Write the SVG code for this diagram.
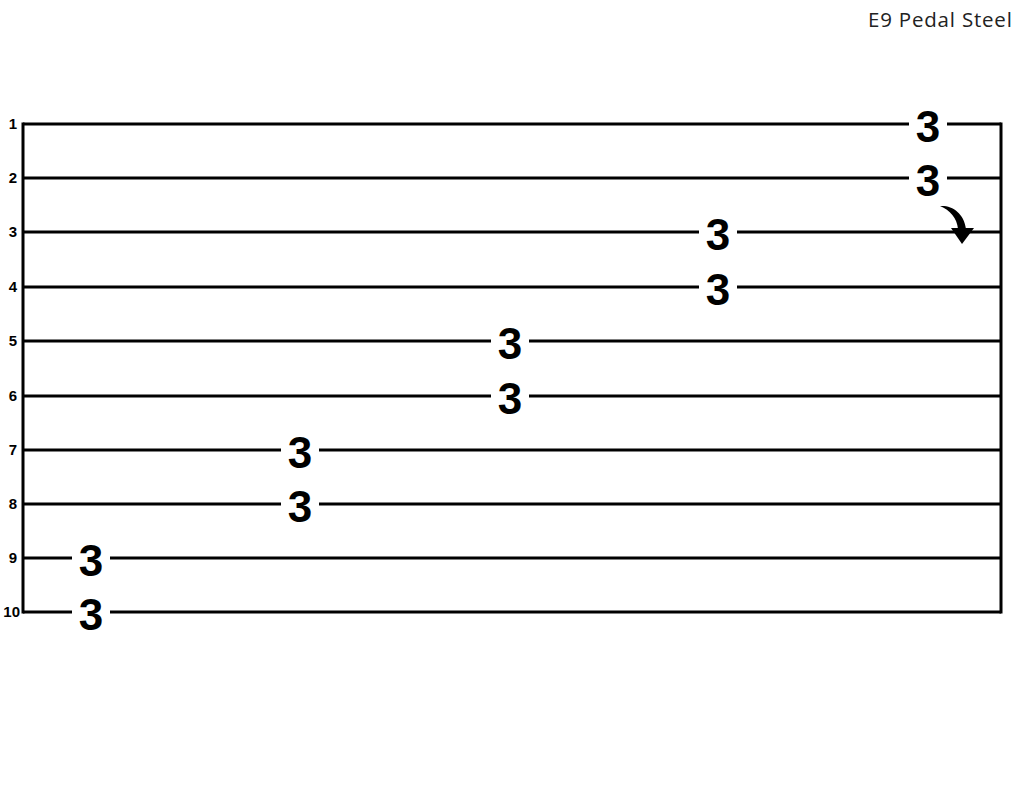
<svg xmlns="http://www.w3.org/2000/svg" width="1024" height="791" viewBox="0 0 1024 791">
<style>
.str{stroke:#000;stroke-width:3;fill:none}
.lbl{font-family:"Liberation Sans",Arial,sans-serif;font-weight:bold;font-size:15px;fill:#000;text-anchor:end}
.fret{font-family:"Liberation Sans",Arial,sans-serif;font-weight:bold;font-size:44px;fill:#000;text-anchor:middle}
.bg{fill:#fff}
.title{font-family:"Open Sans","Liberation Sans",sans-serif;font-size:20.5px;letter-spacing:0.8px;fill:#222}
</style>
<rect width="1024" height="791" fill="#fff"/>
<text class="title" x="868" y="27">E9 Pedal Steel</text>
<g id="staff">
<line class="str" x1="23" y1="124" x2="1001" y2="124"/>
<line class="str" x1="23" y1="178" x2="1001" y2="178"/>
<line class="str" x1="23" y1="232" x2="1001" y2="232"/>
<line class="str" x1="23" y1="287" x2="1001" y2="287"/>
<line class="str" x1="23" y1="341" x2="1001" y2="341"/>
<line class="str" x1="23" y1="396" x2="1001" y2="396"/>
<line class="str" x1="23" y1="450" x2="1001" y2="450"/>
<line class="str" x1="23" y1="504" x2="1001" y2="504"/>
<line class="str" x1="23" y1="558" x2="1001" y2="558"/>
<line class="str" x1="23" y1="612" x2="1001" y2="612"/>
<line class="str" x1="23" y1="122.5" x2="23" y2="613.5"/>
<line class="str" x1="1001" y1="122.5" x2="1001" y2="613.5"/>
</g>
<g id="labels">
<text class="lbl" x="17" y="129">1</text>
<text class="lbl" x="17" y="183">2</text>
<text class="lbl" x="17" y="237">3</text>
<text class="lbl" x="17" y="292">4</text>
<text class="lbl" x="17" y="346">5</text>
<text class="lbl" x="17" y="401">6</text>
<text class="lbl" x="17" y="455">7</text>
<text class="lbl" x="17" y="509">8</text>
<text class="lbl" x="17" y="563">9</text>
<text class="lbl" x="20" y="617">10</text>
</g>
<g id="notes">
<g id="n1"><rect class="bg" x="909" y="112" width="38" height="24"/><text class="fret" x="928" y="142">3</text></g>
<g id="n2"><rect class="bg" x="909" y="166" width="38" height="24"/><text class="fret" x="928" y="196">3</text></g>
<g id="n3"><rect class="bg" x="699" y="220" width="38" height="24"/><text class="fret" x="718" y="250">3</text></g>
<g id="n4"><rect class="bg" x="699" y="275" width="38" height="24"/><text class="fret" x="718" y="305">3</text></g>
<g id="n5"><rect class="bg" x="491" y="329" width="38" height="24"/><text class="fret" x="510" y="359">3</text></g>
<g id="n6"><rect class="bg" x="491" y="384" width="38" height="24"/><text class="fret" x="510" y="414">3</text></g>
<g id="n7"><rect class="bg" x="281" y="438" width="38" height="24"/><text class="fret" x="300" y="468">3</text></g>
<g id="n8"><rect class="bg" x="281" y="492" width="38" height="24"/><text class="fret" x="300" y="522">3</text></g>
<g id="n9"><rect class="bg" x="72" y="546" width="38" height="24"/><text class="fret" x="91" y="576">3</text></g>
<g id="n10"><rect class="bg" x="72" y="600" width="38" height="24"/><text class="fret" x="91" y="630">3</text></g>
</g>
<g id="connectors">
<path d="M940,206 C952,205 964,213 966,229 L958,229 C957,218 950,210 940,206 Z" fill="#000"/>
<polygon points="951,228 974,228 962,244" fill="#000"/>
</g>
</svg>
